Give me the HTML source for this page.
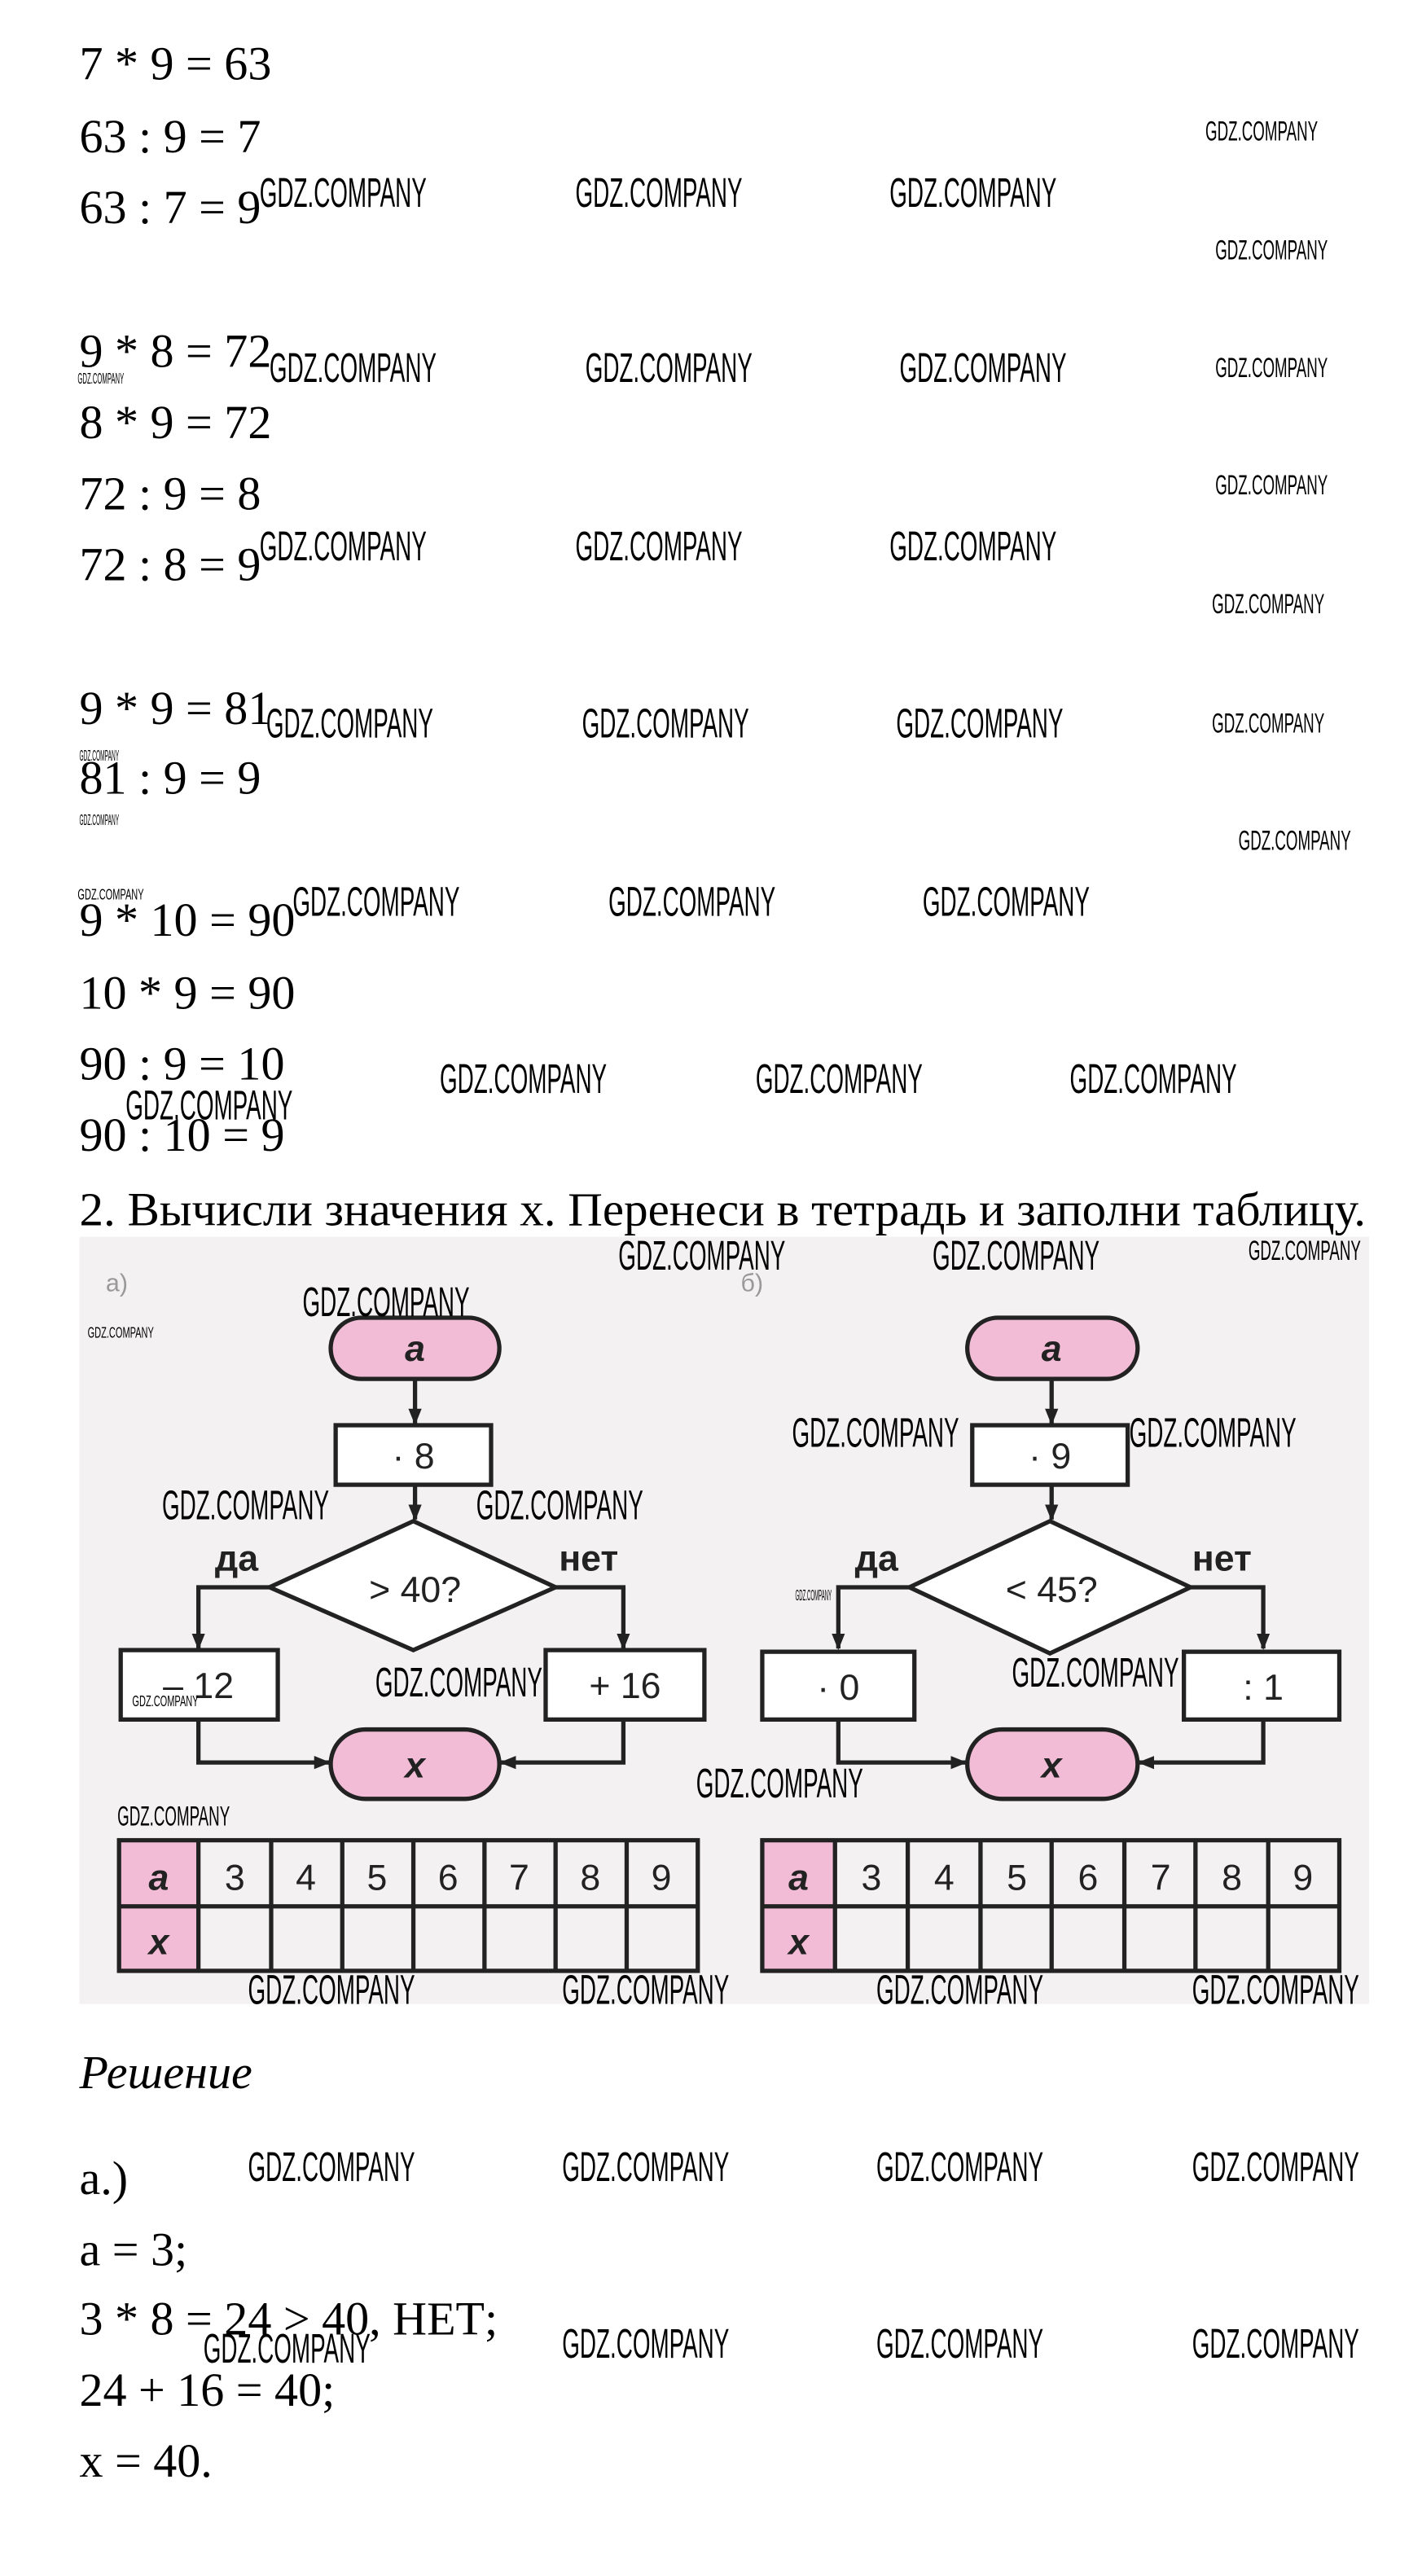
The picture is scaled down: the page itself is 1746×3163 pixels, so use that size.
<!DOCTYPE html>
<html><head><meta charset="utf-8"><style>
html,body{margin:0;padding:0;background:#fff;width:1746px;height:3163px;overflow:hidden}
svg{display:block}
.m{font-family:"Liberation Serif",serif;font-size:28.6px;fill:#000}
.w{font-family:"Liberation Sans",sans-serif;font-size:25px;fill:#000}
.s{font-family:"Liberation Sans",sans-serif;font-size:17px;fill:#000}
.t{font-family:"Liberation Sans",sans-serif;font-size:9px;fill:#000}
.d{font-family:"Liberation Sans",sans-serif;font-size:22px;fill:#222}
.st{stroke:#222;stroke-width:2.6;fill:none}
</style></head><body>
<svg width="1746" height="3163" viewBox="0 0 860 1558" preserveAspectRatio="none" xmlns="http://www.w3.org/2000/svg">
<defs><marker id="ar" markerWidth="10" markerHeight="10" refX="9" refY="5" orient="auto" markerUnits="userSpaceOnUse"><path d="M0,1 L10,5 L0,9 z" fill="#222"/></marker></defs>
<g class="m">
<text x="48" y="48">7 * 9 = 63</text>
<text x="48" y="92">63 : 9 = 7</text>
<text x="48" y="135">63 : 7 = 9</text>
<text x="48" y="222">9 * 8 = 72</text>
<text x="48" y="265">8 * 9 = 72</text>
<text x="48" y="308">72 : 9 = 8</text>
<text x="48" y="351">72 : 8 = 9</text>
<text x="48" y="438">9 * 9 = 81</text>
<text x="48" y="480">81 : 9 = 9</text>
<text x="48" y="566">9 * 10 = 90</text>
<text x="48" y="610">10 * 9 = 90</text>
<text x="48" y="653">90 : 9 = 10</text>
<text x="48" y="696">90 : 10 = 9</text>
<text x="48" y="741" textLength="778" lengthAdjust="spacingAndGlyphs">2. Вычисли значения х. Перенеси в тетрадь и заполни таблицу.</text>
<text x="48" y="1263" font-style="italic">Решение</text>
<text x="48" y="1327">а.)</text>
<text x="48" y="1370">a = 3;</text>
<text x="48" y="1412">3 * 8 = 24 &gt; 40, НЕТ;</text>
<text x="48" y="1455">24 + 16 = 40;</text>
<text x="48" y="1498">x = 40.</text>
</g>
<!-- diagram background -->
<rect x="48" y="748" width="780" height="464" fill="#f3f1f2"/>
<g>
<text x="64" y="781" font-family="Liberation Sans,sans-serif" font-size="15" fill="#999">а)</text>
<text x="448" y="781" font-family="Liberation Sans,sans-serif" font-size="15" fill="#999">б)</text>
<!-- left -->
<rect x="200" y="797" width="102" height="37" rx="18.5" fill="#f2bcd6" class="st" style="fill:#f2bcd6"/>
<text x="251" y="823" text-anchor="middle" class="d" font-weight="bold" font-style="italic">a</text>
<line x1="251" y1="834" x2="251" y2="861" class="st" marker-end="url(#ar)"/>
<rect x="203" y="862" width="94" height="36" class="st" style="fill:#fff"/>
<text x="250" y="888" text-anchor="middle" class="d">· 8</text>
<line x1="251" y1="898" x2="251" y2="919" class="st" marker-end="url(#ar)"/>
<polygon points="250,920 336,960 250,998 163,960" class="st" style="fill:#fff"/>
<text x="251" y="969" text-anchor="middle" class="d">&gt; 40?</text>
<text x="130" y="950" class="d" font-weight="bold">да</text>
<text x="338" y="950" class="d" font-weight="bold">нет</text>
<polyline points="163,960 120,960 120,997" class="st" marker-end="url(#ar)"/>
<polyline points="336,960 377,960 377,997" class="st" marker-end="url(#ar)"/>
<rect x="73" y="998" width="95" height="42" class="st" style="fill:#fff"/>
<text x="120" y="1027" text-anchor="middle" class="d">– 12</text>
<rect x="330" y="998" width="96" height="42" class="st" style="fill:#fff"/>
<text x="378" y="1027" text-anchor="middle" class="d">+ 16</text>
<rect x="200" y="1046" width="102" height="42" rx="21" class="st" style="fill:#f2bcd6"/>
<text x="251" y="1075" text-anchor="middle" class="d" font-weight="bold" font-style="italic">x</text>
<polyline points="120,1040 120,1066 199,1066" class="st" marker-end="url(#ar)"/>
<polyline points="377,1040 377,1066 303,1066" class="st" marker-end="url(#ar)"/>
<rect x="72" y="1113" width="48" height="79" fill="#f2bcd6"/>
<rect x="72" y="1113" width="350" height="79" class="st"/>
<line x1="72" y1="1153" x2="422" y2="1153" class="st"/>
<g class="st"><line x1="120" y1="1113" x2="120" y2="1192"/><line x1="164" y1="1113" x2="164" y2="1192"/><line x1="207" y1="1113" x2="207" y2="1192"/><line x1="250" y1="1113" x2="250" y2="1192"/><line x1="293" y1="1113" x2="293" y2="1192"/><line x1="336" y1="1113" x2="336" y2="1192"/><line x1="379" y1="1113" x2="379" y2="1192"/></g>
<g class="d" text-anchor="middle"><text x="96" y="1143" font-weight="bold" font-style="italic">a</text><text x="96" y="1182" font-weight="bold" font-style="italic">x</text><text x="142" y="1143">3</text><text x="185" y="1143">4</text><text x="228" y="1143">5</text><text x="271" y="1143">6</text><text x="314" y="1143">7</text><text x="357" y="1143">8</text><text x="400" y="1143">9</text></g>
<!-- right -->
<rect x="585" y="797" width="103" height="37" rx="18.5" class="st" style="fill:#f2bcd6"/>
<text x="636" y="823" text-anchor="middle" class="d" font-weight="bold" font-style="italic">a</text>
<line x1="636" y1="834" x2="636" y2="861" class="st" marker-end="url(#ar)"/>
<rect x="588" y="862" width="94" height="36" class="st" style="fill:#fff"/>
<text x="635" y="888" text-anchor="middle" class="d">· 9</text>
<line x1="636" y1="898" x2="636" y2="919" class="st" marker-end="url(#ar)"/>
<polygon points="635,920 720,960 635,1000 550,960" class="st" style="fill:#fff"/>
<text x="636" y="969" text-anchor="middle" class="d">&lt; 45?</text>
<text x="517" y="950" class="d" font-weight="bold">да</text>
<text x="721" y="950" class="d" font-weight="bold">нет</text>
<polyline points="550,960 507,960 507,997" class="st" marker-end="url(#ar)"/>
<polyline points="720,960 764,960 764,997" class="st" marker-end="url(#ar)"/>
<rect x="461" y="999" width="92" height="41" class="st" style="fill:#fff"/>
<text x="507" y="1028" text-anchor="middle" class="d">· 0</text>
<rect x="716" y="999" width="94" height="41" class="st" style="fill:#fff"/>
<text x="764" y="1028" text-anchor="middle" class="d">: 1</text>
<rect x="585" y="1046" width="103" height="42" rx="21" class="st" style="fill:#f2bcd6"/>
<text x="636" y="1075" text-anchor="middle" class="d" font-weight="bold" font-style="italic">x</text>
<polyline points="507,1040 507,1066 584,1066" class="st" marker-end="url(#ar)"/>
<polyline points="764,1040 764,1066 689,1066" class="st" marker-end="url(#ar)"/>
<rect x="461" y="1113" width="44" height="79" fill="#f2bcd6"/>
<rect x="461" y="1113" width="349" height="79" class="st"/>
<line x1="461" y1="1153" x2="810" y2="1153" class="st"/>
<g class="st"><line x1="505" y1="1113" x2="505" y2="1192"/><line x1="549" y1="1113" x2="549" y2="1192"/><line x1="593" y1="1113" x2="593" y2="1192"/><line x1="636" y1="1113" x2="636" y2="1192"/><line x1="680" y1="1113" x2="680" y2="1192"/><line x1="723" y1="1113" x2="723" y2="1192"/><line x1="767" y1="1113" x2="767" y2="1192"/></g>
<g class="d" text-anchor="middle"><text x="483" y="1143" font-weight="bold" font-style="italic">a</text><text x="483" y="1182" font-weight="bold" font-style="italic">x</text><text x="527" y="1143">3</text><text x="571" y="1143">4</text><text x="615" y="1143">5</text><text x="658" y="1143">6</text><text x="702" y="1143">7</text><text x="745" y="1143">8</text><text x="788" y="1143">9</text></g>
</g>
<!-- watermarks big -->
<g class="w">
<text x="157" y="125" textLength="101" lengthAdjust="spacingAndGlyphs">GDZ.COMPANY</text>
<text x="348" y="125" textLength="101" lengthAdjust="spacingAndGlyphs">GDZ.COMPANY</text>
<text x="538" y="125" textLength="101" lengthAdjust="spacingAndGlyphs">GDZ.COMPANY</text>
<text x="163" y="231" textLength="101" lengthAdjust="spacingAndGlyphs">GDZ.COMPANY</text>
<text x="354" y="231" textLength="101" lengthAdjust="spacingAndGlyphs">GDZ.COMPANY</text>
<text x="544" y="231" textLength="101" lengthAdjust="spacingAndGlyphs">GDZ.COMPANY</text>
<text x="157" y="339" textLength="101" lengthAdjust="spacingAndGlyphs">GDZ.COMPANY</text>
<text x="348" y="339" textLength="101" lengthAdjust="spacingAndGlyphs">GDZ.COMPANY</text>
<text x="538" y="339" textLength="101" lengthAdjust="spacingAndGlyphs">GDZ.COMPANY</text>
<text x="161" y="446" textLength="101" lengthAdjust="spacingAndGlyphs">GDZ.COMPANY</text>
<text x="352" y="446" textLength="101" lengthAdjust="spacingAndGlyphs">GDZ.COMPANY</text>
<text x="542" y="446" textLength="101" lengthAdjust="spacingAndGlyphs">GDZ.COMPANY</text>
<text x="177" y="554" textLength="101" lengthAdjust="spacingAndGlyphs">GDZ.COMPANY</text>
<text x="368" y="554" textLength="101" lengthAdjust="spacingAndGlyphs">GDZ.COMPANY</text>
<text x="558" y="554" textLength="101" lengthAdjust="spacingAndGlyphs">GDZ.COMPANY</text>
<text x="266" y="661" textLength="101" lengthAdjust="spacingAndGlyphs">GDZ.COMPANY</text>
<text x="457" y="661" textLength="101" lengthAdjust="spacingAndGlyphs">GDZ.COMPANY</text>
<text x="647" y="661" textLength="101" lengthAdjust="spacingAndGlyphs">GDZ.COMPANY</text>
<text x="76" y="677" textLength="101" lengthAdjust="spacingAndGlyphs">GDZ.COMPANY</text>
<text x="374" y="768" textLength="101" lengthAdjust="spacingAndGlyphs">GDZ.COMPANY</text>
<text x="564" y="768" textLength="101" lengthAdjust="spacingAndGlyphs">GDZ.COMPANY</text>
<text x="183" y="796" textLength="101" lengthAdjust="spacingAndGlyphs">GDZ.COMPANY</text>
<text x="479" y="875" textLength="101" lengthAdjust="spacingAndGlyphs">GDZ.COMPANY</text>
<text x="683" y="875" textLength="101" lengthAdjust="spacingAndGlyphs">GDZ.COMPANY</text>
<text x="98" y="919" textLength="101" lengthAdjust="spacingAndGlyphs">GDZ.COMPANY</text>
<text x="288" y="919" textLength="101" lengthAdjust="spacingAndGlyphs">GDZ.COMPANY</text>
<text x="227" y="1026" textLength="101" lengthAdjust="spacingAndGlyphs">GDZ.COMPANY</text>
<text x="612" y="1020" textLength="101" lengthAdjust="spacingAndGlyphs">GDZ.COMPANY</text>
<text x="421" y="1087" textLength="101" lengthAdjust="spacingAndGlyphs">GDZ.COMPANY</text>
<text x="150" y="1212" textLength="101" lengthAdjust="spacingAndGlyphs">GDZ.COMPANY</text>
<text x="340" y="1212" textLength="101" lengthAdjust="spacingAndGlyphs">GDZ.COMPANY</text>
<text x="530" y="1212" textLength="101" lengthAdjust="spacingAndGlyphs">GDZ.COMPANY</text>
<text x="721" y="1212" textLength="101" lengthAdjust="spacingAndGlyphs">GDZ.COMPANY</text>
<text x="150" y="1319" textLength="101" lengthAdjust="spacingAndGlyphs">GDZ.COMPANY</text>
<text x="340" y="1319" textLength="101" lengthAdjust="spacingAndGlyphs">GDZ.COMPANY</text>
<text x="530" y="1319" textLength="101" lengthAdjust="spacingAndGlyphs">GDZ.COMPANY</text>
<text x="721" y="1319" textLength="101" lengthAdjust="spacingAndGlyphs">GDZ.COMPANY</text>
<text x="123" y="1429" textLength="101" lengthAdjust="spacingAndGlyphs">GDZ.COMPANY</text>
<text x="340" y="1426" textLength="101" lengthAdjust="spacingAndGlyphs">GDZ.COMPANY</text>
<text x="530" y="1426" textLength="101" lengthAdjust="spacingAndGlyphs">GDZ.COMPANY</text>
<text x="721" y="1426" textLength="101" lengthAdjust="spacingAndGlyphs">GDZ.COMPANY</text>
</g>
<g class="s">
<text x="729" y="85" textLength="68" lengthAdjust="spacingAndGlyphs">GDZ.COMPANY</text>
<text x="735" y="157" textLength="68" lengthAdjust="spacingAndGlyphs">GDZ.COMPANY</text>
<text x="735" y="228" textLength="68" lengthAdjust="spacingAndGlyphs">GDZ.COMPANY</text>
<text x="735" y="299" textLength="68" lengthAdjust="spacingAndGlyphs">GDZ.COMPANY</text>
<text x="733" y="371" textLength="68" lengthAdjust="spacingAndGlyphs">GDZ.COMPANY</text>
<text x="733" y="443" textLength="68" lengthAdjust="spacingAndGlyphs">GDZ.COMPANY</text>
<text x="749" y="514" textLength="68" lengthAdjust="spacingAndGlyphs">GDZ.COMPANY</text>
<text x="755" y="762" textLength="68" lengthAdjust="spacingAndGlyphs">GDZ.COMPANY</text>
<text x="71" y="1104" textLength="68" lengthAdjust="spacingAndGlyphs">GDZ.COMPANY</text>
</g>
<g class="t">
<text x="47" y="232" textLength="28" lengthAdjust="spacingAndGlyphs">GDZ.COMPANY</text>
<text x="48" y="460" textLength="24" lengthAdjust="spacingAndGlyphs">GDZ.COMPANY</text>
<text x="48" y="499" textLength="24" lengthAdjust="spacingAndGlyphs">GDZ.COMPANY</text>
<text x="47" y="544" textLength="40" lengthAdjust="spacingAndGlyphs">GDZ.COMPANY</text>
<text x="53" y="809" textLength="40" lengthAdjust="spacingAndGlyphs">GDZ.COMPANY</text>
<text x="80" y="1032" textLength="40" lengthAdjust="spacingAndGlyphs">GDZ.COMPANY</text>
<text x="481" y="968" textLength="22" lengthAdjust="spacingAndGlyphs">GDZ.COMPANY</text>
</g>
</svg>
</body></html>
